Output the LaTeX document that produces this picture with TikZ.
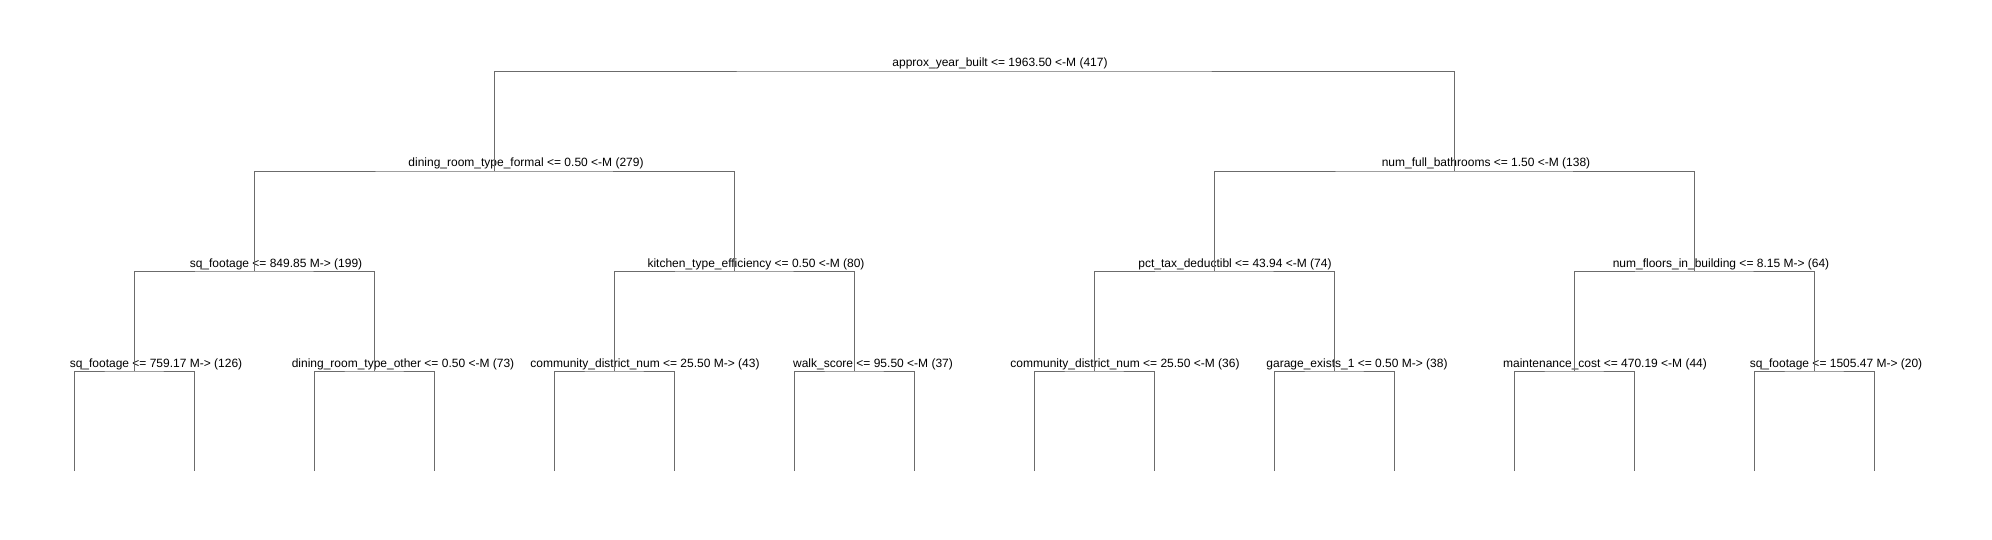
\documentclass[tikz,border=0pt]{standalone}
\usepackage{fontspec}
\setmainfont{Liberation Sans}
\usetikzlibrary{positioning}

\begin{document}
\begin{tikzpicture}[x=1pt, y=-1pt, every path/.style={line width=0.9pt}, branch/.style={draw=black!58}, split/.style={anchor=base, inner sep=0pt, font=\fontsize{12}{14}\selectfont}]

        \useasboundingbox (0,0) rectangle (1992,540);

        % split points
        \coordinate (n0) at (974,71);
        \coordinate (n1) at (494,171);
        \coordinate (n2) at (1454,171);
        \coordinate (n11) at (254,271);
        \coordinate (n12) at (734,271);
        \coordinate (n21) at (1214,271);
        \coordinate (n22) at (1694,271);
        \coordinate (n111) at (134,371);
        \coordinate (n112) at (374,371);
        \coordinate (n121) at (614,371);
        \coordinate (n122) at (854,371);
        \coordinate (n211) at (1094,371);
        \coordinate (n212) at (1334,371);
        \coordinate (n221) at (1574,371);
        \coordinate (n222) at (1814,371);

        % split labels
        \node[split] (t0) at (1000,67) {approx\_year\_built <= 1963.50 <-M (417)};
        \node[split] (t1) at (526,167) {dining\_room\_type\_formal <= 0.50 <-M (279)};
        \node[split] (t2) at (1486,167) {num\_full\_bathrooms <= 1.50 <-M (138)};
        \node[split] (t11) at (276,267) {sq\_footage <= 849.85 M-> (199)};
        \node[split] (t12) at (756,267) {kitchen\_type\_efficiency <= 0.50 <-M (80)};
        \node[split] (t21) at (1235,267) {pct\_tax\_deductibl <= 43.94 <-M (74)};
        \node[split] (t22) at (1721,267) {num\_floors\_in\_building <= 8.15 M-> (64)};
        \node[split] (t111) at (156,367) {sq\_footage <= 759.17 M-> (126)};
        \node[split] (t112) at (403,367) {dining\_room\_type\_other <= 0.50 <-M (73)};
        \node[split] (t121) at (645,367) {community\_district\_num <= 25.50 M-> (43)};
        \node[split] (t122) at (873,367) {walk\_score <= 95.50 <-M (37)};
        \node[split] (t211) at (1125,367) {community\_district\_num <= 25.50 <-M (36)};
        \node[split] (t212) at (1357,367) {garage\_exists\_1 <= 0.50 M-> (38)};
        \node[split] (t221) at (1605,367) {maintenance\_cost <= 470.19 <-M (44)};
        \node[split] (t222) at (1836,367) {sq\_footage <= 1505.47 M-> (20)};

        \draw[branch] (n1) |- (n0) -| (n2);
        \draw[branch] (n11) |- (n1) -| (n12);
        \draw[branch] (n21) |- (n2) -| (n22);
        \draw[branch] (n111) |- (n11) -| (n112);
        \draw[branch] (n121) |- (n12) -| (n122);
        \draw[branch] (n211) |- (n21) -| (n212);
        \draw[branch] (n221) |- (n22) -| (n222);

        % leaves
        \foreach \s in {n111,n112,n121,n122,n211,n212,n221,n222} {
                \coordinate (\s-l) at ([xshift=-60pt,yshift=-100pt]\s);
                \coordinate (\s-r) at ([xshift=60pt,yshift=-100pt]\s);
                \draw[branch] (\s-l) |- (\s) -| (\s-r);
        }

\end{tikzpicture}
\end{document}
